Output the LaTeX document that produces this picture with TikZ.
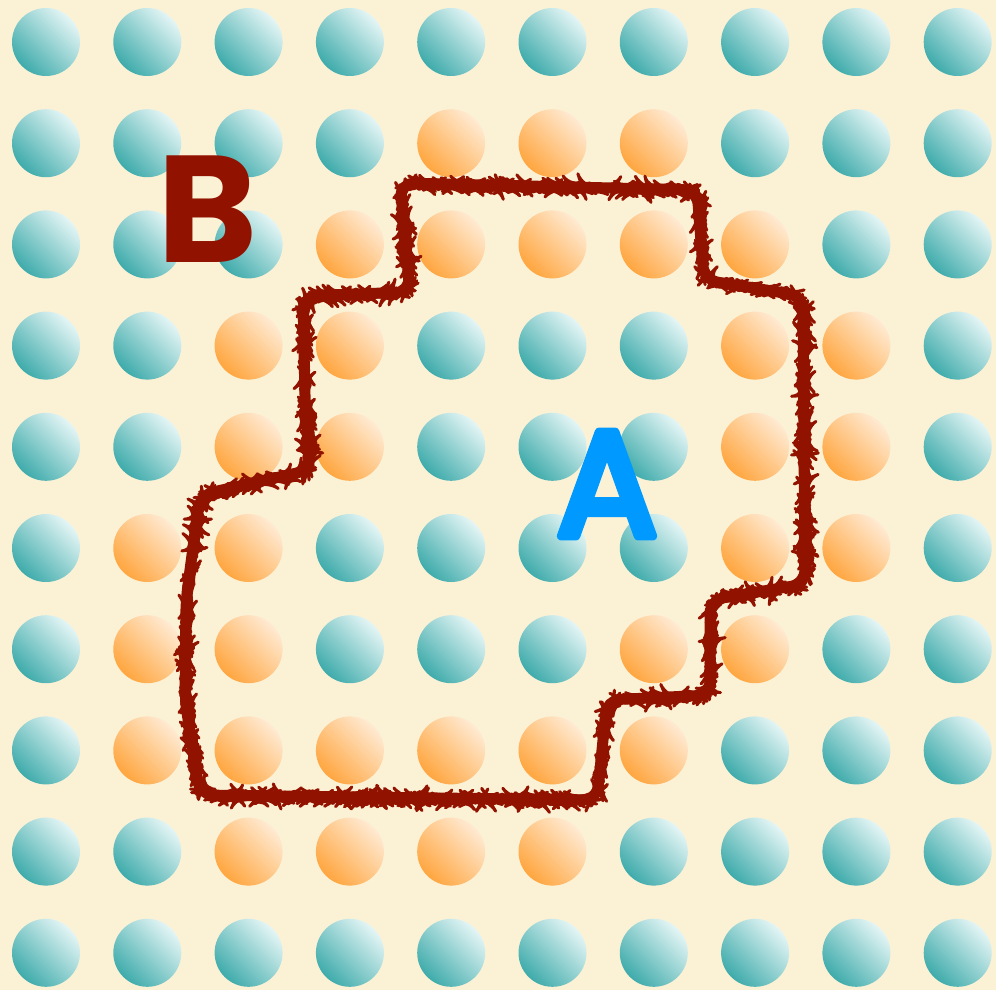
\documentclass[tikz,border=0pt]{standalone}
\usepackage{fontspec}
\newfontfamily\pop{Poppins}
\usetikzlibrary{decorations.pathmorphing}
\definecolor{bg}{HTML}{FBF2D6}
\definecolor{tealdark}{HTML}{3FABAB}
\definecolor{teallight}{HTML}{E4F5F5}
\definecolor{orgdark}{HTML}{FFA640}
\definecolor{orglight}{HTML}{FFEAD2}
\definecolor{bred}{HTML}{921200}
\definecolor{ablue}{HTML}{0099FF}
\tikzset{
  ball/.style={circle, inner sep=0pt, minimum size=68pt, shade},
  tealball/.style={ball, top color=teallight, bottom color=tealdark, shading angle=-45},
  orangeball/.style={ball, top color=orglight, bottom color=orgdark, shading angle=-45},
  bound/.style={draw=bred, line width=11pt, rounded corners=14pt, line join=round},
  roughb/.style={draw=bred, line width=3pt, line join=round, line cap=round, decorate, decoration={random steps, segment length=3pt, amplitude=1.5pt}},
}
\begin{document}
\begin{tikzpicture}[x=1pt,y=-1pt]
\fill[bg] (0,0) rectangle (996,990);
\useasboundingbox (0,0) rectangle (996,990);
\foreach \p in {4/1,5/1,6/1,3/2,4/2,5/2,6/2,7/2,2/3,3/3,7/3,8/3,2/4,3/4,7/4,8/4,1/5,2/5,7/5,8/5,1/6,2/6,6/6,7/6,1/7,2/7,3/7,4/7,5/7,6/7,2/8,3/8,4/8,5/8}{%
  \expandafter\gdef\csname orb-\p\endcsname{}}
\foreach \i in {0,...,9}{
  \foreach \j in {0,...,9}{
    \ifcsname orb-\i/\j\endcsname \def\bs{orangeball}\else\def\bs{tealball}\fi
    \node[\bs] (c\i\j) at ({46+101.3*\i},{42+101.2*\j}) {};
  }
}
\def\bpath{(400,183) -- (697,190) -- (704,280) -- (803,296) -- (805,584) -- (710,600) -- (710,695) -- (607,700) -- (597,800) -- (200,795) -- (185,700) -- (186,600) -- (200,495) -- (310,470) -- (305,400) -- (303,296) -- (410,292) -- cycle}
\draw[bound] \bpath;
\begin{scope}[rounded corners=14pt]
\draw[roughb, transform canvas={xshift=1.5pt}] \bpath;
\draw[roughb, transform canvas={yshift=-1.5pt}] \bpath;
\end{scope}
\node[text=bred, inner sep=0pt, font=\pop\bfseries\fontsize{152}{152}\selectfont] (B) at (208,209) {B};
\node[text=ablue, inner sep=0pt, font=\pop\fontsize{150}{150}\selectfont] (A) at (607,484) {\special{pdf:literal direct 1 j 1 J 9 w 2 Tr}A\special{pdf:literal direct 0 Tr 1 w}};
\end{tikzpicture}
\end{document}
